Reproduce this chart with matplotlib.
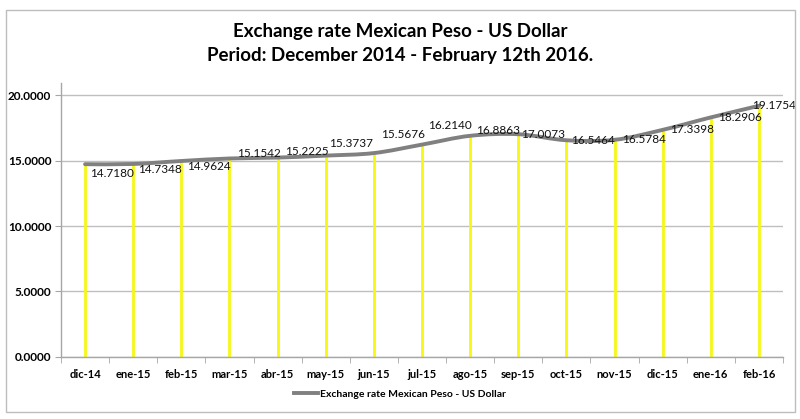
import numpy as np
import matplotlib
matplotlib.use("Agg")
import matplotlib.pyplot as plt
from matplotlib.path import Path
from matplotlib.patches import PathPatch, Rectangle
from matplotlib.lines import Line2D

plt.rcParams['font.family'] = ['Lato', 'DejaVu Sans']

# ---------------------------
# Data
# ---------------------------
months = ["dic-14", "ene-15", "feb-15", "mar-15", "abr-15", "may-15", "jun-15",
          "jul-15", "ago-15", "sep-15", "oct-15", "nov-15", "dic-15", "ene-16",
          "feb-16"]
rates = [14.7180, 14.7348, 14.9624, 15.1542, 15.2225, 15.3737, 15.5676,
         16.2140, 16.8863, 17.0073, 16.5464, 16.5784, 17.3398, 18.2906,
         19.1754]
y_ticks = [0, 5, 10, 15, 20]
series_name = "Exchange rate Mexican Peso - US Dollar"
title_lines = ["Exchange rate Mexican Peso - US Dollar",
               "Period: December 2014 - February 12th 2016."]

# data label nudges (pixels), as Excel placed them
label_dx = [27, 27, 28, 29, 29, 25, 29, 28, 28, 25, 27, 29, 29, 29, 15]
label_dy = [-9, -6, -6, 5, 6, 12, 19, 19, 5, 0, 0, 0, 0, 0, 0]

GRID = "#BFBFBF"
AXIS = "#A6A6A6"
LINE = "#808080"
YELLOW = "#F7F714"

# ---------------------------
# Figure
# ---------------------------
fig = plt.figure(figsize=(8.0, 4.19), dpi=100)
ax = fig.add_axes([0.07625, 0.148, 0.9025, 0.654])

x = np.arange(len(months))
ax.set_xlim(-0.5, len(months) - 0.5)
ax.set_ylim(0, 20.92)

# outer chart border
fig.patches.append(Rectangle((6 / 800, 7 / 419), 789 / 800, 402 / 419,
                             transform=fig.transFigure, fill=False,
                             edgecolor="#BDBDBD", lw=1.0))

# grid
ax.set_yticks(y_ticks)
ax.set_yticklabels([f"{v:.4f}" for v in y_ticks])
ax.yaxis.grid(True, color=GRID, lw=1.0)
ax.set_axisbelow(True)

# drop lines
ax.vlines(x, 0, rates, color=YELLOW, lw=2.0, zorder=2)

# smoothed line (Catmull-Rom as cubic Bezier, like Excel)
pts = np.column_stack([x, rates]).astype(float)
ext = np.vstack([pts[0], pts, pts[-1]])
verts = [tuple(pts[0])]
codes = [Path.MOVETO]
for i in range(len(pts) - 1):
    p0, p1, p2, p3 = ext[i], ext[i + 1], ext[i + 2], ext[i + 3]
    c1 = p1 + (p2 - p0) / 6.0
    c2 = p2 - (p3 - p1) / 6.0
    verts += [tuple(c1), tuple(c2), tuple(p2)]
    codes += [Path.CURVE4] * 3
ax.add_patch(PathPatch(Path(verts, codes), fill=False, edgecolor=LINE,
                       lw=2.8, capstyle="round", joinstyle="round", zorder=3))

# data labels
for xi, v, dx, dy in zip(x, rates, label_dx, label_dy):
    ax.annotate(f"{v:.4f}", (xi, v), xytext=(dx, dy),
                textcoords="offset pixels", ha="center", va="center",
                fontsize=8.5, color="#111111", zorder=4)

# axes styling
for side in ("top", "right"):
    ax.spines[side].set_visible(False)
for side in ("left", "bottom"):
    ax.spines[side].set_color(AXIS)
    ax.spines[side].set_linewidth(1.0)

ax.set_xticks(x)
ax.set_xticklabels(months, fontweight="bold", fontsize=8)
ax.set_xticks(np.arange(-0.5, len(months), 1.0), minor=True)
ax.tick_params(axis="x", which="major", length=0, pad=9)
ax.tick_params(axis="x", which="minor", length=4, color=AXIS, direction="out")
ax.tick_params(axis="y", length=4, color=AXIS, pad=3)
for lab in ax.get_yticklabels():
    lab.set_fontweight("bold")
    lab.set_fontsize(8.5)

# title (two lines)
fig.text(0.5, 1 - 32 / 419, title_lines[0], ha="center", va="center",
         fontsize=13.5, fontweight="bold")
fig.text(0.5, 1 - 56 / 419, title_lines[1], ha="center", va="center",
         fontsize=13.5, fontweight="bold")

# legend
handle = Line2D([], [], color=LINE, lw=2.8)
fig.legend([handle], [series_name], loc="center",
           bbox_to_anchor=(0.5, 1 - 394 / 419), frameon=False,
           handlelength=2.3, handletextpad=0.2,
           prop={"weight": "bold", "size": 7.5})

fig.savefig("out.png", dpi=100)
